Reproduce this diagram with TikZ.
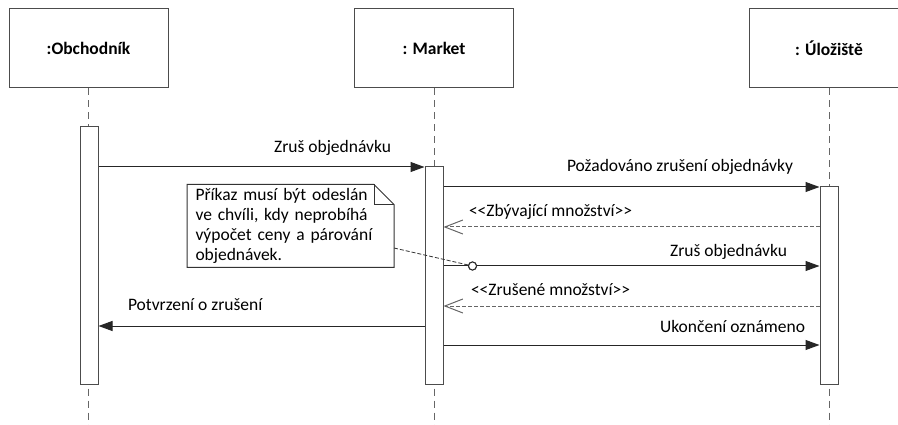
\documentclass[tikz,border=0pt]{standalone}
\usepackage{fontspec}
\setmainfont{Carlito}
\usetikzlibrary{arrows.meta}

\begin{document}
\begin{tikzpicture}[x=1pt,y=-1pt,line width=1pt,
  every node/.style={font=\fontsize{17.5pt}{20pt}\selectfont},
  obj/.style={rectangle,draw=black!70,minimum width=159pt,minimum height=79pt,
    font=\fontsize{17.5pt}{20pt}\selectfont\bfseries},
  bar/.style={rectangle,draw=black!70,fill=white,minimum width=18pt,inner sep=0pt},
  life/.style={draw=black!60,dash pattern=on 7pt off 5pt},
  msg/.style={-{Triangle[length=14pt,width=10pt]},draw=black!85},
  ret/.style={-{Straight Barb[length=18pt,width=14pt]},draw=black!60,dash pattern=on 4pt off 2pt},
  lbl/.style={inner sep=0pt},
  note/.style={rectangle,minimum width=205pt,minimum height=82pt,text width=190pt,
    align=left,inner xsep=8pt,inner ysep=0pt,font=\fontsize{17.5pt}{20pt}\selectfont},
  pin/.style={circle,draw=black!85,fill=white,inner sep=0pt,minimum size=8pt}]

  \clip (0,0) rectangle (898,425);

  % objects
  \node[obj] (obch) at (88.5,48.5) {:Obchodník};
  \node[obj] (mkt) at (434,48.5) {: Market};
  \node[obj] (ulo) at (829,48.5) {: Úložiště};

  \coordinate (bot) at (0,425);

  % lifelines
  \draw[life] (obch.south) -- (obch.south |- bot);
  \draw[life] (mkt.south) -- (mkt.south |- bot);
  \draw[life] (ulo.south) -- (ulo.south |- bot);

  % activations
  \node[bar,minimum height=257pt] (obchbar) at (89,255.5) {};
  \node[bar,minimum height=217pt] (mktbar) at (434,275.5) {};
  \node[bar,minimum height=197pt] (ulobar) at (829,285.5) {};

  % message levels
  \coordinate (m1) at (0,167);
  \coordinate (m2) at (0,187);
  \coordinate (m3) at (0,227);
  \coordinate (m4) at (0,266);
  \coordinate (m5) at (0,306);
  \coordinate (m6) at (0,326);
  \coordinate (m7) at (0,345);

  \draw[msg] (obchbar.east |- m1) -- (mktbar.west |- m1)
    node[lbl,pos=1,anchor=east,xshift=-33pt,yshift=19pt] {Zruš objednávku};
  \draw[msg] (mktbar.east |- m2) -- (ulobar.west |- m2)
    node[lbl,pos=1,anchor=east,xshift=-26pt,yshift=20pt] {Požadováno zrušení objednávky};
  \draw[ret] (ulobar.west |- m3) -- (mktbar.east |- m3)
    node[lbl,pos=1,anchor=west,xshift=25pt,yshift=15pt] {<{}<Zbývající množství>{}>};
  \draw[msg] (mktbar.east |- m4) -- (ulobar.west |- m4)
    node[lbl,pos=1,anchor=east,xshift=-32pt,yshift=14pt] {Zruš objednávku};
  \draw[ret] (ulobar.west |- m5) -- (mktbar.east |- m5)
    node[lbl,pos=1,anchor=west,xshift=27pt,yshift=16pt] {<{}<Zrušené množství>{}>};
  \draw[msg] (mktbar.west |- m6) -- (obchbar.east |- m6)
    node[lbl,pos=1,anchor=west,xshift=29pt,yshift=21pt] {Potvrzení o zrušení};
  \draw[msg] (mktbar.east |- m7) -- (ulobar.west |- m7)
    node[lbl,pos=1,anchor=east,xshift=-14pt,yshift=19pt] {Ukončení oznámeno};

  % note
  \node[note] (note) at (290.5,226) {Příkaz musí být odeslán\\ve chvíli, kdy neprobíhá\\výpočet ceny a párování\\objednávek.};
  \draw[draw=black!80] (note.south west) -- (note.north west)
    -- ([xshift=-20pt]note.north east) -- ([yshift=-20pt]note.north east)
    -- (note.south east) -- cycle;
  \draw[draw=black!80] ([xshift=-20pt]note.north east)
    -- ([xshift=-20pt,yshift=-20pt]note.north east) -- ([yshift=-20pt]note.north east);

  \node[pin] (pt) at (mktbar.east |- m4) [xshift=29pt] {};
  \draw[draw=black!80,line width=0.8pt,dash pattern=on 4pt off 2pt] ([yshift=-22pt]note.east) -- (pt);
  \node[pin] at (pt) {};
\end{tikzpicture}
\end{document}
